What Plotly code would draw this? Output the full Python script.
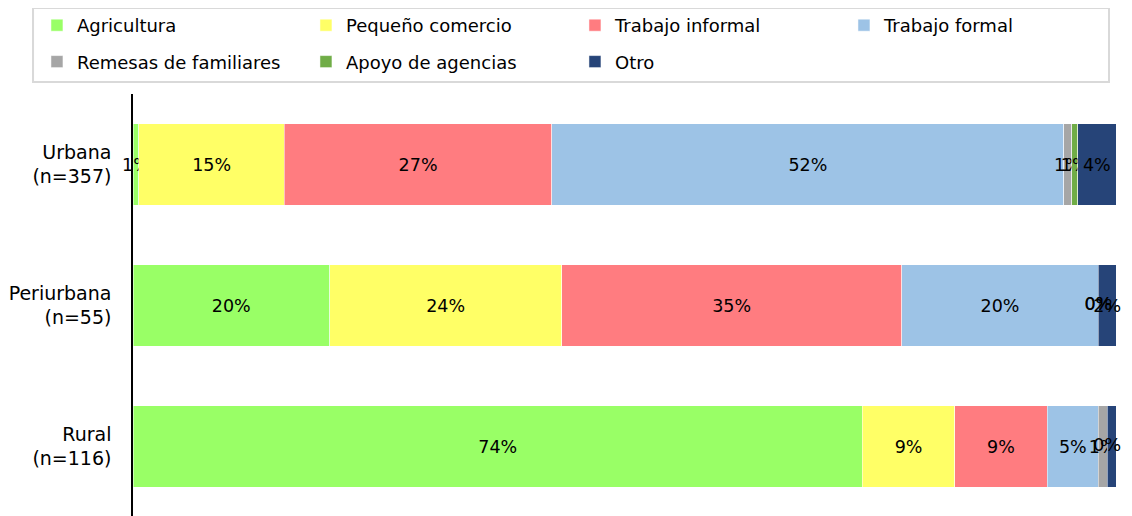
import plotly.graph_objects as go

# Fuente de ingresos por zona (porcentajes)
zonas = ["Urbana<br>(n=357)", "Periurbana<br>(n=55)", "Rural<br>(n=116)"]
categorias = ["Agricultura", "Pequeño comercio", "Trabajo informal", "Trabajo formal",
              "Remesas de familiares", "Apoyo de agencias", "Otro"]

agricultura = [0.6, 20.0, 74.2]
pequeno_comercio = [14.8, 23.6, 9.4]
trabajo_informal = [27.2, 34.6, 9.4]
trabajo_formal = [52.1, 20.0, 5.2]
remesas = [0.8, 0.0, 0.9]
apoyo = [0.6, 0.0, 0.0]
otro = [3.9, 1.8, 0.9]

series = [agricultura, pequeno_comercio, trabajo_informal, trabajo_formal, remesas, apoyo, otro]
colores = ["#99FF66", "#FFFF66", "#FF7C80", "#9DC3E6", "#A6A6A6", "#70AD47", "#264478"]

fuente = "DejaVu Sans"
# leyenda en 4 columnas (como en Excel): col 1 = Agricultura/Remesas, etc.
col_leyenda = ["legend", "legend2", "legend3", "legend4", "legend", "legend2", "legend3"]

fig = go.Figure()
for i, (nombre, vals, col) in enumerate(zip(categorias, series, colores)):
    fig.add_trace(go.Bar(
        y=zonas, x=vals, name=nombre, orientation="h",
        marker=dict(color=col, line=dict(color="rgba(255,255,255,0.5)", width=1)),
        texttemplate="%{x:.0f}%", textposition="inside", insidetextanchor="middle",
        constraintext="none", textangle=0, cliponaxis=False,
        textfont=dict(family=fuente, size=17.5, color="black"),
        width=0.575,
        legend=col_leyenda[i], legendgroup=nombre,
    ))

# etiquetas "0%" de los segmentos vacios (Excel las muestra igual)
acum = [0.0] * len(zonas)
for vals in series:
    xs, ys = [], []
    for j, v in enumerate(vals):
        if v == 0:
            xs.append(acum[j])
            ys.append(zonas[j])
        acum[j] += v
    if xs:
        fig.add_trace(go.Scatter(x=xs, y=ys, mode="text", text=["0%"] * len(xs),
                                 textfont=dict(family=fuente, size=17.5, color="black"),
                                 showlegend=False, cliponaxis=False, hoverinfo="skip"))

# la pagina deja 8 px de margen, se compensa aqui
x0_ley = -0.0977
paso = 269 / 983
ley = dict(orientation="v", y=1.2057, xanchor="left", yanchor="top",
           bgcolor="rgba(0,0,0,0)", traceorder="grouped", tracegroupgap=10,
           font=dict(family=fuente, size=18), itemclick=False, itemdoubleclick=False)

fig.update_layout(
    barmode="stack",
    width=1132, height=516,
    margin=dict(l=125, r=24, t=86, b=7, autoexpand=False),
    plot_bgcolor="white", paper_bgcolor="white",
    font=dict(family=fuente, size=18, color="black"),
    showlegend=True,
    legend=dict(ley, x=x0_ley),
    legend2=dict(ley, x=x0_ley + paso),
    legend3=dict(ley, x=x0_ley + 2 * paso),
    legend4=dict(ley, x=x0_ley + 3 * paso),
)

# recuadro de la leyenda
fig.add_shape(type="rect", xref="paper", yref="paper",
              x0=-0.1017, x1=0.9929, y0=1.0284, y1=1.2033,
              line=dict(color="#D9D9D9", width=2), fillcolor="rgba(0,0,0,0)", layer="below")

fig.update_xaxes(range=[0, 100], visible=False)
fig.update_yaxes(autorange="reversed", showline=True, linecolor="black", linewidth=1.5,
                 ticks="", showgrid=False, ticklabelstandoff=16, automargin=False,
                 tickfont=dict(family=fuente, size=19))

fig.write_html("out.html")
